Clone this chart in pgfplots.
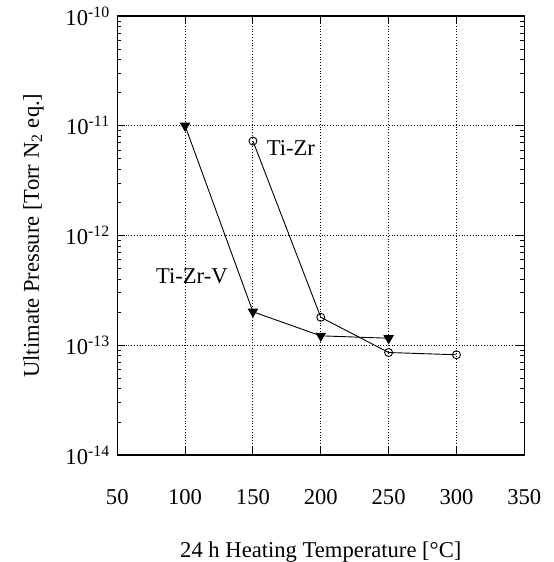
\documentclass[border=0pt]{standalone}
\usepackage{fontspec}
\setmainfont{Liberation Serif}
\usepackage{pgfplots}
\pgfplotsset{compat=1.18}

\begin{document}
\begin{tikzpicture}
\begin{axis}[
    scale only axis,
    width=203.5pt, height=219.5pt,
    xmin=50, xmax=350,
    ymode=log, ymin=1e-14, ymax=1e-10,
    xtick={50,100,...,350},
    ytick={1e-14,1e-13,1e-12,1e-11,1e-10},
    yticklabels={10\textsuperscript{-14},10\textsuperscript{-13},10\textsuperscript{-12},10\textsuperscript{-11},10\textsuperscript{-10}},
    xticklabel={\pgfmathprintnumber[assume math mode=true]{\tick}},
    font=\fontsize{11.3}{13}\selectfont,
    tick label style={font=\fontsize{11.3}{13}\selectfont},
    xticklabel style={yshift=-13.5pt},
    xlabel={24 h Heating Temperature [°C]},
    ylabel={Ultimate Pressure [Torr N\textsubscript{2} eq.]},
    xlabel style={yshift=-15pt, inner sep=0pt},
    ylabel style={yshift=4pt},
    grid=major,
    major grid style={black, densely dotted, line width=0.5pt},
    axis line style={line width=0.6pt},
    tick align=inside,
    major tick length=4pt,
    minor tick length=2pt,
    tick style={black, line width=0.5pt},
]
\addplot[black, line width=0.45pt, mark=triangle*, mark size=2.6pt,
    mark options={rotate=180, fill=black}]
    coordinates {(100,1.0e-11) (150,2.02e-13) (200,1.22e-13) (250,1.16e-13)};
\addplot[black, line width=0.45pt, mark=o, mark size=2pt,
    mark options={fill=white}]
    coordinates {(150,7.26e-12) (200,1.80e-13) (250,8.6e-14) (300,8.2e-14)};
\node[font=\fontsize{11.3}{13}\selectfont] at (axis cs:178,6.26e-12) {Ti-Zr};
\node[font=\fontsize{11.3}{13}\selectfont] at (axis cs:105,4.27e-13) {Ti-Zr-V};
\end{axis}
\path (current axis.outer west) ++(-8.3pt,0) (current axis.outer east) ++(3pt,0);
\end{tikzpicture}
\end{document}
